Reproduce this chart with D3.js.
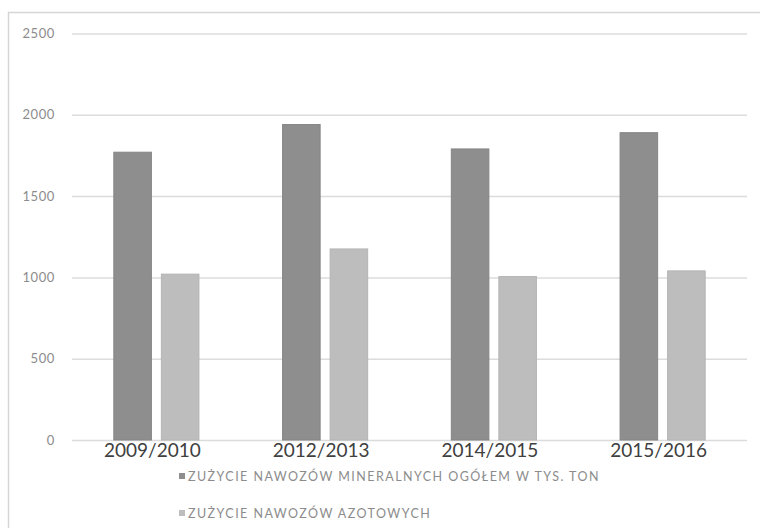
<!DOCTYPE html>
<html>
<head>
<meta charset="utf-8">
<script src="https://cdn.jsdelivr.net/npm/d3@7"></script>
<style>
  html, body { margin: 0; padding: 0; background: #fff; }
  svg { display: block; }
  text { font-family: Lato, "Open Sans", sans-serif; }
</style>
</head>
<body>
<svg id="chart" width="760" height="528"></svg>
<script>
// Fertilizer use by season (thousand tonnes)
const categories = ["2009/2010", "2012/2013", "2014/2015", "2015/2016"];
const seriesNames = [
  "ZUŻYCIE NAWOZÓW MINERALNYCH OGÓŁEM W TYS. TON",
  "ZUŻYCIE NAWOZÓW AZOTOWYCH"
];
const mineralTotal = [1770, 1940, 1790, 1890];
const nitrogen = [1020, 1175, 1005, 1040];
const yTicks = [0, 500, 1000, 1500, 2000, 2500];
const seriesColors = ["#8e8e8e", "#bdbdbd"];
const seriesStrokes = ["#858585", "#b4b4b4"];

const svg = d3.select("#chart");

// outer chart frame
svg.append("rect")
  .attr("x", 8.5).attr("y", 12.5)
  .attr("width", 800).attr("height", 600)
  .attr("fill", "#fff")
  .attr("stroke", "#d6d6d6")
  .attr("stroke-width", 1.5);

const plot = { left: 72, right: 747, top: 33.5, bottom: 440 };

const y = d3.scaleLinear().domain([0, 2500]).range([plot.bottom, plot.top]);
const x0 = d3.scaleBand().domain(categories).range([plot.left, plot.right]).padding(0);
const x1 = d3.scaleBand().domain([0, 1])
  .range([0, x0.bandwidth()])
  .paddingInner(0.21).paddingOuter(0.88);

// horizontal gridlines + value labels
const yAxis = d3.axisLeft(y).tickValues(yTicks)
  .tickSize(-(plot.right - plot.left)).tickPadding(17)
  .tickFormat(d3.format("d"));
const gy = svg.append("g")
  .attr("transform", `translate(${plot.left},0)`)
  .call(yAxis);
gy.select(".domain").remove();
gy.selectAll(".tick line").attr("stroke", "#dcdcdc").attr("stroke-width", 1.5);
gy.selectAll(".tick text")
  .attr("fill", "#8c8c8c")
  .style("font-size", "13px")
  .style("letter-spacing", "0.6px");

// bars
const rows = categories.map((c, i) => ({ cat: c, values: [mineralTotal[i], nitrogen[i]] }));
const groups = svg.append("g").selectAll("g")
  .data(rows).join("g")
  .attr("transform", d => `translate(${x0(d.cat)},0)`);
groups.selectAll("rect")
  .data(d => d.values.map((v, k) => ({ k, v })))
  .join("rect")
  .attr("x", d => x1(d.k))
  .attr("width", x1.bandwidth())
  .attr("y", d => y(d.v))
  .attr("height", d => y(0) - y(d.v))
  .attr("fill", d => seriesColors[d.k])
  .attr("stroke", d => seriesStrokes[d.k])
  .attr("stroke-width", 1);

// category labels
const xAxis = d3.axisBottom(x0).tickSize(0).tickPadding(3);
const gx = svg.append("g")
  .attr("transform", `translate(-4,${plot.bottom})`)
  .call(xAxis);
gx.select(".domain").remove();
gx.selectAll(".tick text")
  .attr("fill", "#404040")
  .style("font-size", "19px");

// legend, one entry per line
const legend = svg.append("g");
const legendRows = [476, 513];
seriesNames.forEach((name, k) => {
  const row = legend.append("g").attr("transform", `translate(179,${legendRows[k]})`);
  row.append("rect")
    .attr("x", 0).attr("y", -3)
    .attr("width", 6).attr("height", 6)
    .attr("fill", seriesColors[k]);
  row.append("text")
    .attr("x", 9).attr("y", 0)
    .attr("dy", "0.36em")
    .attr("fill", "#8c8c8c")
    .style("font-size", "12.5px")
    .style("letter-spacing", "1.45px")
    .text(name);
});
</script>
</body>
</html>
